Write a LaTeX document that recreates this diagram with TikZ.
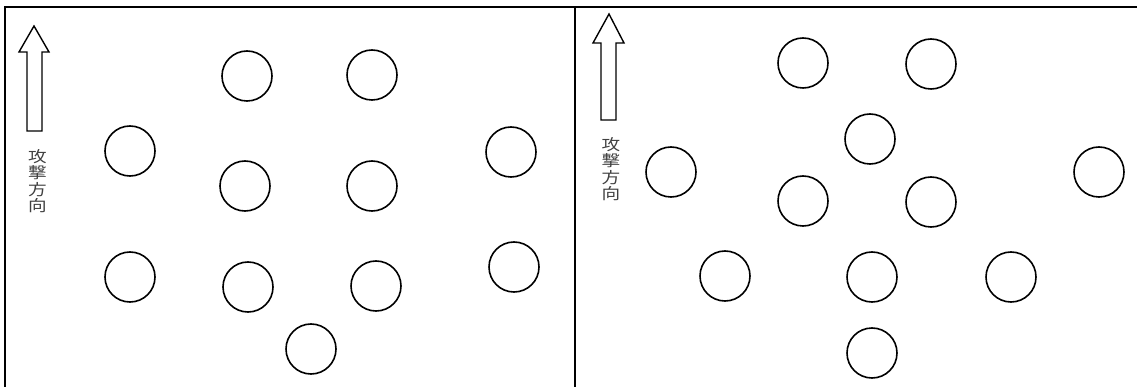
\documentclass[tikz,border=0pt]{standalone}
\usepackage{fontspec}
\newfontfamily\cjk{Noto Sans CJK JP}
\newcommand{\widech}[1]{\scalebox{1.2}[1]{#1}}
\begin{document}
\begin{tikzpicture}[x=1pt,y=-1pt,
  soldier/.style={circle,draw=black,line width=1.6pt,minimum size=50pt,inner sep=0pt},
  frameline/.style={draw=black,line width=1.8pt},
  blockarrow/.style={draw=black,line width=1.4pt,fill=white,line join=miter},
  dirtext/.style={text=black!75,font=\cjk\fontsize{15.5}{16.5}\selectfont,align=center,inner sep=0pt}]
\useasboundingbox (0,0) rectangle (1137,387);
% frame
\coordinate (tl) at (5,7); \coordinate (tr) at (1137,7);
\coordinate (bl) at (5,387);
\coordinate (mt) at (575,7); \coordinate (mb) at (575,387);
\draw[frameline] (bl) -- (tl) -- (tr);
\draw[frameline,line width=1.5pt] (mt) -- (mb);
% left arrow
\draw[blockarrow] (27,131) -- (27,52) -- (19,52) -- (34,26) -- (49,52) -- (42,52) -- (42,131) -- cycle;
\node[dirtext] (t1) at (37.5,181) {\widech{攻}\\\widech{撃}\\\widech{方}\\\widech{向}};
% right arrow
\draw[blockarrow] (601,120) -- (601,43) -- (593,43) -- (609,14) -- (624,43) -- (616,43) -- (616,120) -- cycle;
\node[dirtext] (t2) at (611,169) {\widech{攻}\\\widech{撃}\\\widech{方}\\\widech{向}};
% left panel circles
\node[soldier] (a1) at (247,76) {};
\node[soldier] (a2) at (372,75) {};
\node[soldier] (a3) at (130,151) {};
\node[soldier] (a4) at (245,186) {};
\node[soldier] (a5) at (372,186) {};
\node[soldier] (a6) at (511,152) {};
\node[soldier] (a7) at (130,277) {};
\node[soldier] (a8) at (248,287) {};
\node[soldier] (a9) at (376,286) {};
\node[soldier] (a10) at (514,267) {};
\node[soldier] (a11) at (311,349) {};
% right panel circles
\node[soldier] (b1) at (803,63) {};
\node[soldier] (b2) at (931,64) {};
\node[soldier] (b3) at (870,139) {};
\node[soldier] (b4) at (671,172) {};
\node[soldier] (b5) at (803,201) {};
\node[soldier] (b6) at (931,202) {};
\node[soldier] (b7) at (1099,172) {};
\node[soldier] (b8) at (725,276) {};
\node[soldier] (b9) at (872,277) {};
\node[soldier] (b10) at (1011,277) {};
\node[soldier] (b11) at (872,353) {};
\end{tikzpicture}
\end{document}
